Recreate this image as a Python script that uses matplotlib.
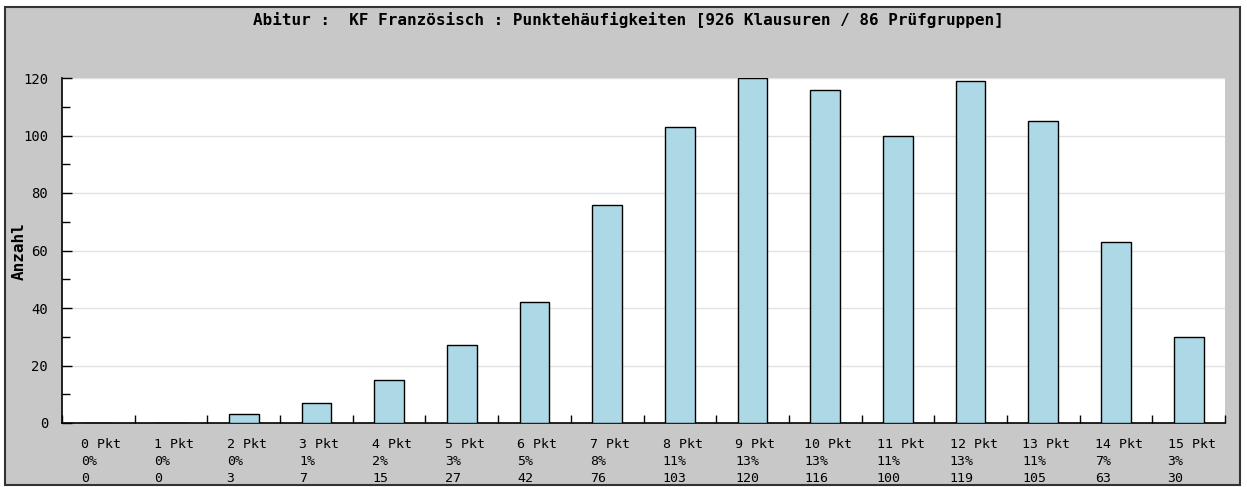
import matplotlib.pyplot as plt
from matplotlib.patches import Rectangle
from matplotlib.ticker import MultipleLocator
import numpy as np

punkte = list(range(16))
anzahl = [0, 0, 3, 7, 15, 27, 42, 76, 103, 120, 116, 100, 119, 105, 63, 30]
prozent = [0, 0, 0, 1, 2, 3, 5, 8, 11, 13, 13, 11, 13, 11, 7, 3]
titel = "Abitur :  KF Französisch : Punktehäufigkeiten [926 Klausuren / 86 Prüfgruppen]"

W, H = 1247, 487
fig = plt.figure(figsize=(W / 100, H / 100), dpi=100)
fig.patch.set_facecolor("white")
mono = "DejaVu Sans Mono"

# grey panel with dark border
fig.patches.append(Rectangle((5 / W, 1 - 485 / H), 1235 / W, 478 / H,
                             transform=fig.transFigure, facecolor="#c8c8c8",
                             edgecolor="#333333", linewidth=1.5, zorder=-5))

ax = fig.add_axes([62 / W, 1 - 423 / H, (1225 - 62) / W, (423 - 78) / H])
ax.set_zorder(2)
ax.set_facecolor("white")

x = np.arange(len(punkte)) + 0.5
ax.bar(x, anzahl, width=0.41, color="#add8e6", edgecolor="black", linewidth=1, zorder=3)

ax.set_xlim(0, 16)
ax.set_ylim(0, 120)
ax.yaxis.set_major_locator(MultipleLocator(20))
ax.yaxis.set_minor_locator(MultipleLocator(10))
ax.grid(axis="y", color="#e2e2e2", linewidth=1, zorder=0)
ax.set_xticks(np.arange(17))
ax.set_xticklabels([])
ax.tick_params(axis="x", direction="in", length=6, width=1)
ax.tick_params(axis="y", which="major", direction="in", length=7, width=1,
               labelsize=10, pad=10)
ax.tick_params(axis="y", which="minor", direction="in", length=6, width=1)
for lab in ax.get_yticklabels():
    lab.set_family(mono)
for s in ["top", "right"]:
    ax.spines[s].set_visible(False)
ax.spines["left"].set_linewidth(1.2)
ax.spines["bottom"].set_linewidth(1.2)

# category labels under the axis
for i, p in enumerate(punkte):
    txt = f"{p} Pkt\n{prozent[i]}%\n{anzahl[i]}"
    ax.text(x[i] + 0.04, -0.044, txt, transform=ax.get_xaxis_transform(),
            ha="center", va="top", multialignment="left",
            family=mono, fontsize=9.5, linespacing=1.4, clip_on=False)

fig.text(628 / W, 1 - 20 / H, titel, ha="center", va="center",
         family=mono, fontsize=11.5, fontweight="bold")
fig.text(19 / W, 1 - 251 / H, "Anzahl", ha="center", va="center", rotation=90,
         family=mono, fontsize=11.5, fontweight="bold")

fig.savefig("out.png", dpi=100)
